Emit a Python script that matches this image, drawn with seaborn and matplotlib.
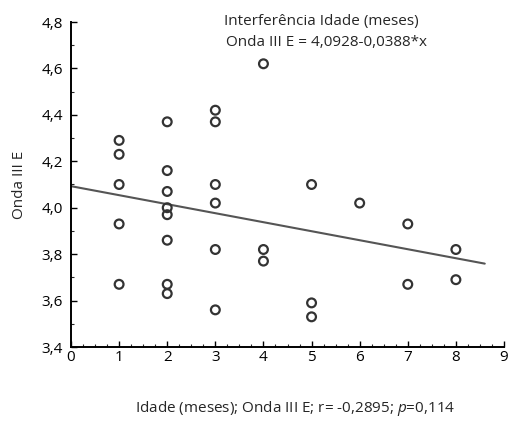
import numpy as np
import pandas as pd
import matplotlib
matplotlib.use("Agg")
import matplotlib.pyplot as plt
import seaborn as sns
from matplotlib.ticker import MultipleLocator, FuncFormatter

# ---- data ----
idade = [1, 1, 1, 1, 1,
         2, 2, 2, 2, 2, 2, 2, 2,
         3, 3, 3, 3, 3, 3,
         4, 4, 4,
         5, 5, 5,
         6,
         7, 7,
         8, 8]
onda = [4.29, 4.23, 4.10, 3.93, 3.67,
        4.37, 4.16, 4.07, 4.00, 3.97, 3.86, 3.67, 3.63,
        4.42, 4.37, 4.10, 4.02, 3.82, 3.56,
        4.62, 3.82, 3.77,
        4.10, 3.59, 3.53,
        4.02,
        3.93, 3.67,
        3.82, 3.69]
intercept = 4.0928
slope = -0.0388
line_x = [0.0, 8.6]
line_y = [intercept + slope * v for v in line_x]

x_ticks = list(range(0, 10))
y_ticks = [3.4, 3.6, 3.8, 4.0, 4.2, 4.4, 4.6, 4.8]

title_lines = ["Interferência Idade (meses)", "Onda III E = 4,0928-0,0388*x"]
ylabel = "Onda III E"

df = pd.DataFrame({"idade": idade, "onda": onda})
df_line = pd.DataFrame({"x": line_x, "y": line_y})

sns.set_style("ticks")
plt.rcParams["font.family"] = ["Open Sans", "DejaVu Sans"]
plt.rcParams["mathtext.fontset"] = "custom"
plt.rcParams["mathtext.it"] = "Open Sans:italic"
plt.rcParams["mathtext.rm"] = "Open Sans"

FS = 11

fig = plt.figure(figsize=(5.09, 4.23), dpi=100)
ax = fig.add_axes([71 / 509, 1 - 347 / 423, (504 - 71) / 509, (347 - 22) / 423])

sns.lineplot(data=df_line, x="x", y="y", ax=ax, color="#555555", linewidth=1.5)
sns.scatterplot(data=df, x="idade", y="onda", ax=ax, marker="o", s=40,
                facecolor="none", edgecolor="#333333", linewidth=1.6, zorder=3)

ax.set_xlim(0, 9)
ax.set_ylim(3.4, 4.8)
ax.set_xticks(x_ticks)
ax.set_yticks(y_ticks)
ax.xaxis.set_minor_locator(MultipleLocator(0.25))
ax.yaxis.set_minor_locator(MultipleLocator(0.1))
ax.yaxis.set_major_formatter(FuncFormatter(lambda v, p: f"{v:.1f}".replace(".", ",")))
ax.tick_params(axis="both", which="major", direction="in", length=4, width=1,
               labelsize=FS, colors="black")
ax.tick_params(axis="y", which="major", pad=6)
ax.tick_params(axis="x", which="major", pad=2)
ax.tick_params(axis="both", which="minor", direction="in", length=2, width=0.8)
for s in ["top", "right"]:
    ax.spines[s].set_visible(False)
for s in ["left", "bottom"]:
    ax.spines[s].set_linewidth(1.4)
    ax.spines[s].set_color("black")

ax.set_xlabel("")
ax.set_ylabel(ylabel, fontsize=FS, labelpad=10)

fig.text(321 / 509, 1 - 21 / 423, title_lines[0], ha="center", va="center", fontsize=FS)
fig.text(326 / 509, 1 - 43 / 423, title_lines[1], ha="center", va="center", fontsize=FS)
fig.text(295 / 509, 1 - 408 / 423,
         r"Idade (meses); Onda III E; r= -0,2895; $p$=0,114",
         ha="center", va="center", fontsize=FS)

fig.savefig("out.png", dpi=100, facecolor="white")
